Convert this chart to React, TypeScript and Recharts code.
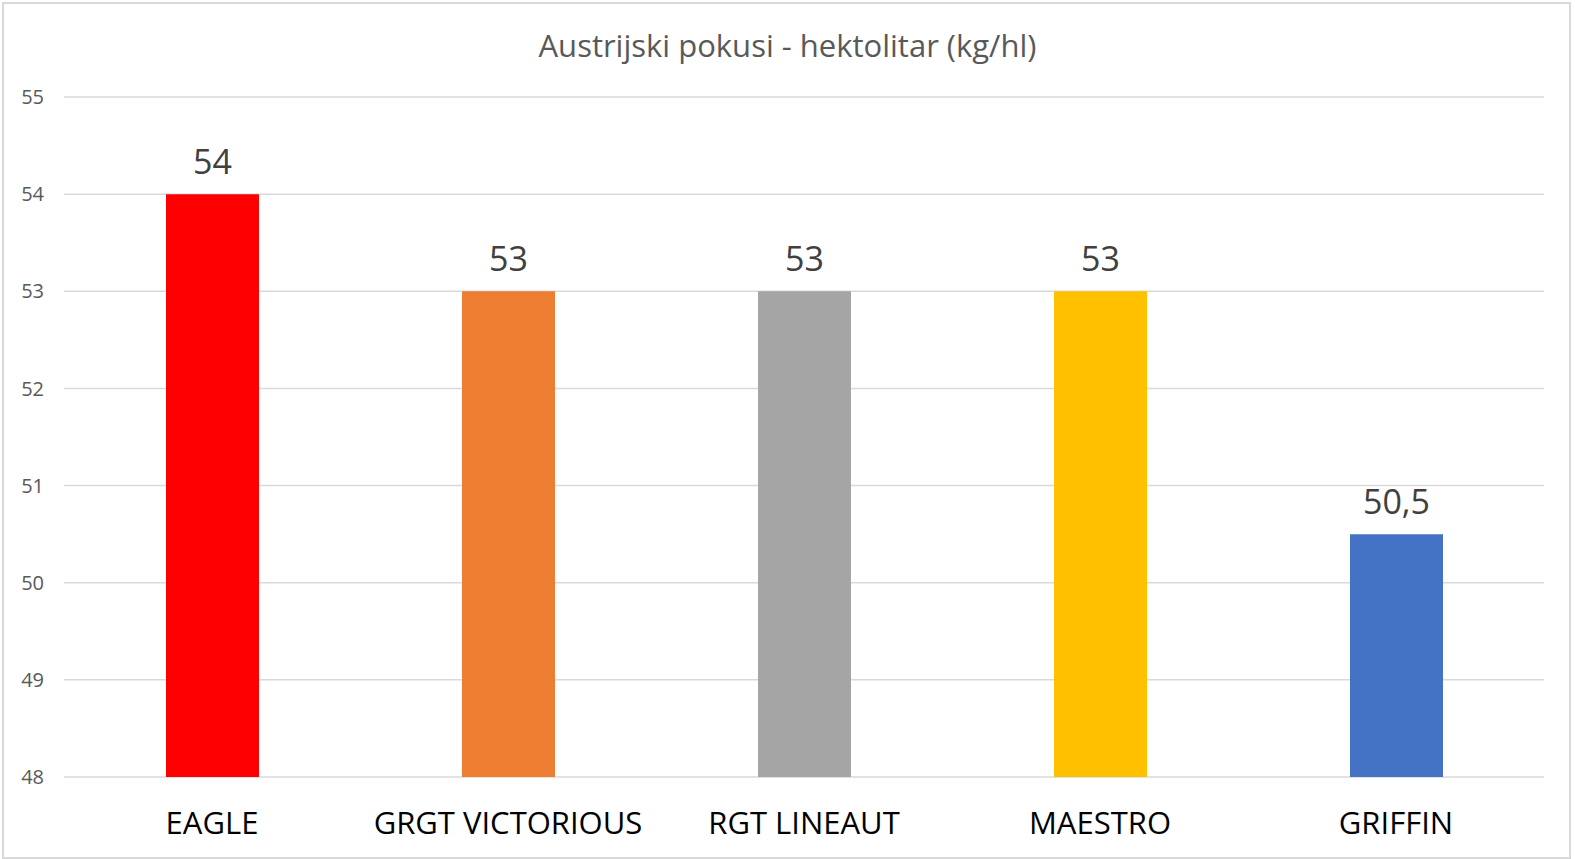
import React from "react";
import {
  BarChart,
  Bar,
  XAxis,
  YAxis,
  CartesianGrid,
  Cell,
  LabelList,
} from "recharts";

const varieties = ["EAGLE", "GRGT VICTORIOUS", "RGT LINEAUT", "MAESTRO", "GRIFFIN"];
const hectoliter = [54, 53, 53, 53, 50.5];
const barColors = ["#FF0000", "#ED7D31", "#A5A5A5", "#FFC000", "#4472C4"];
const yTicks = [48, 49, 50, 51, 52, 53, 54, 55];

const data = varieties.map((name, i) => ({ name, value: hectoliter[i] }));

const FONT = "'Open Sans', sans-serif";

const App: React.FC = () => {
  return (
    <div
      style={{
        position: "absolute",
        left: 0,
        top: 0,
        width: 1575,
        height: 859,
        background: "#fff",
        fontFamily: FONT,
      }}
    >
      <div
        style={{
          position: "absolute",
          left: 2,
          top: 2,
          width: 1565,
          height: 853,
          border: "2px solid #d9d9d9",
        }}
      />
      <div
        style={{
          position: "absolute",
          left: 0,
          top: 24,
          width: 1575,
          textAlign: "center",
          fontSize: 31,
          color: "#595959",
          lineHeight: "42px",
        }}
      >
        Austrijski pokusi - hektolitar (kg/hl)
      </div>
      <BarChart
        width={1575}
        height={859}
        data={data}
        margin={{ top: 97, right: 31, bottom: 32, left: 14 }}
        style={{ position: "absolute", left: 0, top: 0 }}
      >
        <CartesianGrid vertical={false} stroke="#d9d9d9" strokeWidth={1.5} />
        <XAxis
          dataKey="name"
          axisLine={false}
          tickLine={false}
          height={50}
          tick={{ fill: "#000", fontSize: 31, fontFamily: FONT }}
          tickMargin={29}
          interval={0}
        />
        <YAxis
          domain={[48, 55]}
          ticks={yTicks}
          axisLine={false}
          tickLine={false}
          width={50}
          tick={{ fill: "#595959", fontSize: 20, fontFamily: FONT }}
          tickMargin={14}
        />
        <Bar dataKey="value" barSize={93} isAnimationActive={false}>
          {data.map((d, i) => (
            <Cell key={d.name} fill={barColors[i]} />
          ))}
          <LabelList
            dataKey="value"
            position="top"
            offset={20}
            fill="#404040"
            fontSize={34}
            fontFamily={FONT}
            formatter={(v: any) => String(v).replace(".", ",")}
          />
        </Bar>
      </BarChart>
    </div>
  );
};

export default App;
